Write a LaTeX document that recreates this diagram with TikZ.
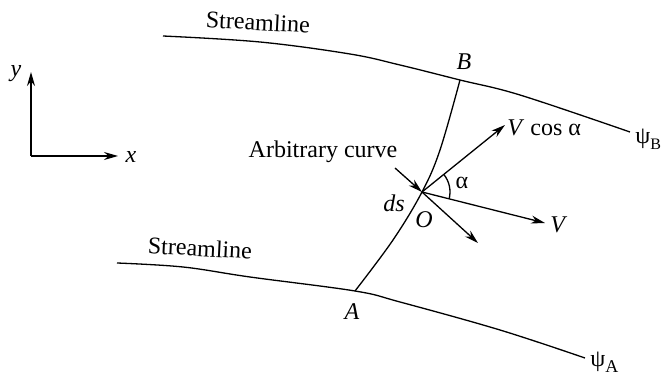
\documentclass[tikz,border=0pt]{standalone}
\usepackage{fontspec}
\setmainfont{Liberation Serif}
\usetikzlibrary{arrows.meta}
\begin{document}
\begin{tikzpicture}[x=0.5pt,y=-0.5pt,
  line/.style={line width=0.65pt},
  arr/.style={line width=0.65pt,-{Stealth[length=7pt,width=4pt]}},
  lbl/.style={font=\fontsize{12}{14}\selectfont, inner sep=0pt}]
\useasboundingbox (0,0) rectangle (661,374);
% axes
\coordinate (org) at (31,156);
\coordinate (ytip) at (31,72);
\coordinate (xtip) at (118,156);
\draw[arr] (org) -- (ytip);
\draw[arr] (org) -- (xtip);
\node[lbl] (ylab) at (16,74) {\itshape y};
\node[lbl] (xlab) at (131,157) {\itshape x};
% streamlines
\draw[line] plot[smooth,tension=0.6] coordinates {(163,36) (260,42) (350,54) (400,65) (460,80) (520,95) (630,132)};
\draw[line] plot[smooth,tension=0.6] coordinates {(117,263) (183,267) (250,277) (355,291) (400,302) (500,330) (585,358)};
\node[lbl,rotate=-3] (s1) at (258,22) {Streamline};
\node[lbl,rotate=-3] (s2) at (200,248) {Streamline};
% arbitrary curve
\coordinate (A) at (355,291);
\coordinate (B) at (460,80);
\coordinate (O) at (422,192);
\draw[line] plot[smooth,tension=0.6] coordinates {(A) (393,240) (O) (440,150) (B)};
\node[lbl] (Blab) at (464,62) {\itshape B};
\node[lbl] (Alab) at (352,312) {\itshape A};
\node[lbl] (Olab) at (424,220) {\itshape O};
\node[lbl] (dslab) at (394,203) {\itshape ds};
\node[lbl] (arb) at (323,152) {Arbitrary curve};
\coordinate (arbstart) at (395,168);
\draw[arr] (arbstart) -- (O);
% vectors
\coordinate (Vtip) at (545,223);
\coordinate (Vctip) at (505,125);
\coordinate (ntip) at (478,243);
\draw[arr] (O) -- (Vtip);
\draw[arr] (O) -- (Vctip);
\draw[arr] (O) -- (ntip);
\draw[line] ([shift={(14:28)}]O) arc[start angle=14,end angle=-39,radius=28];
\node[lbl,anchor=west] (Vlab) at (550,225) {\itshape V};
\node[lbl,anchor=west] (Vclab) at (507,128) {\itshape V\/ \upshape cos α};
\node[lbl] (alab) at (462,183) {α};
% psi labels
\node[lbl,anchor=west] (psiB) at (635,139) {ψ\raisebox{-3pt}{\fontsize{8}{9}\selectfont B}};
\node[lbl,anchor=west] (psiA) at (590,362) {ψ\raisebox{-3pt}{\fontsize{9}{10}\selectfont A}};
\end{tikzpicture}
\end{document}
